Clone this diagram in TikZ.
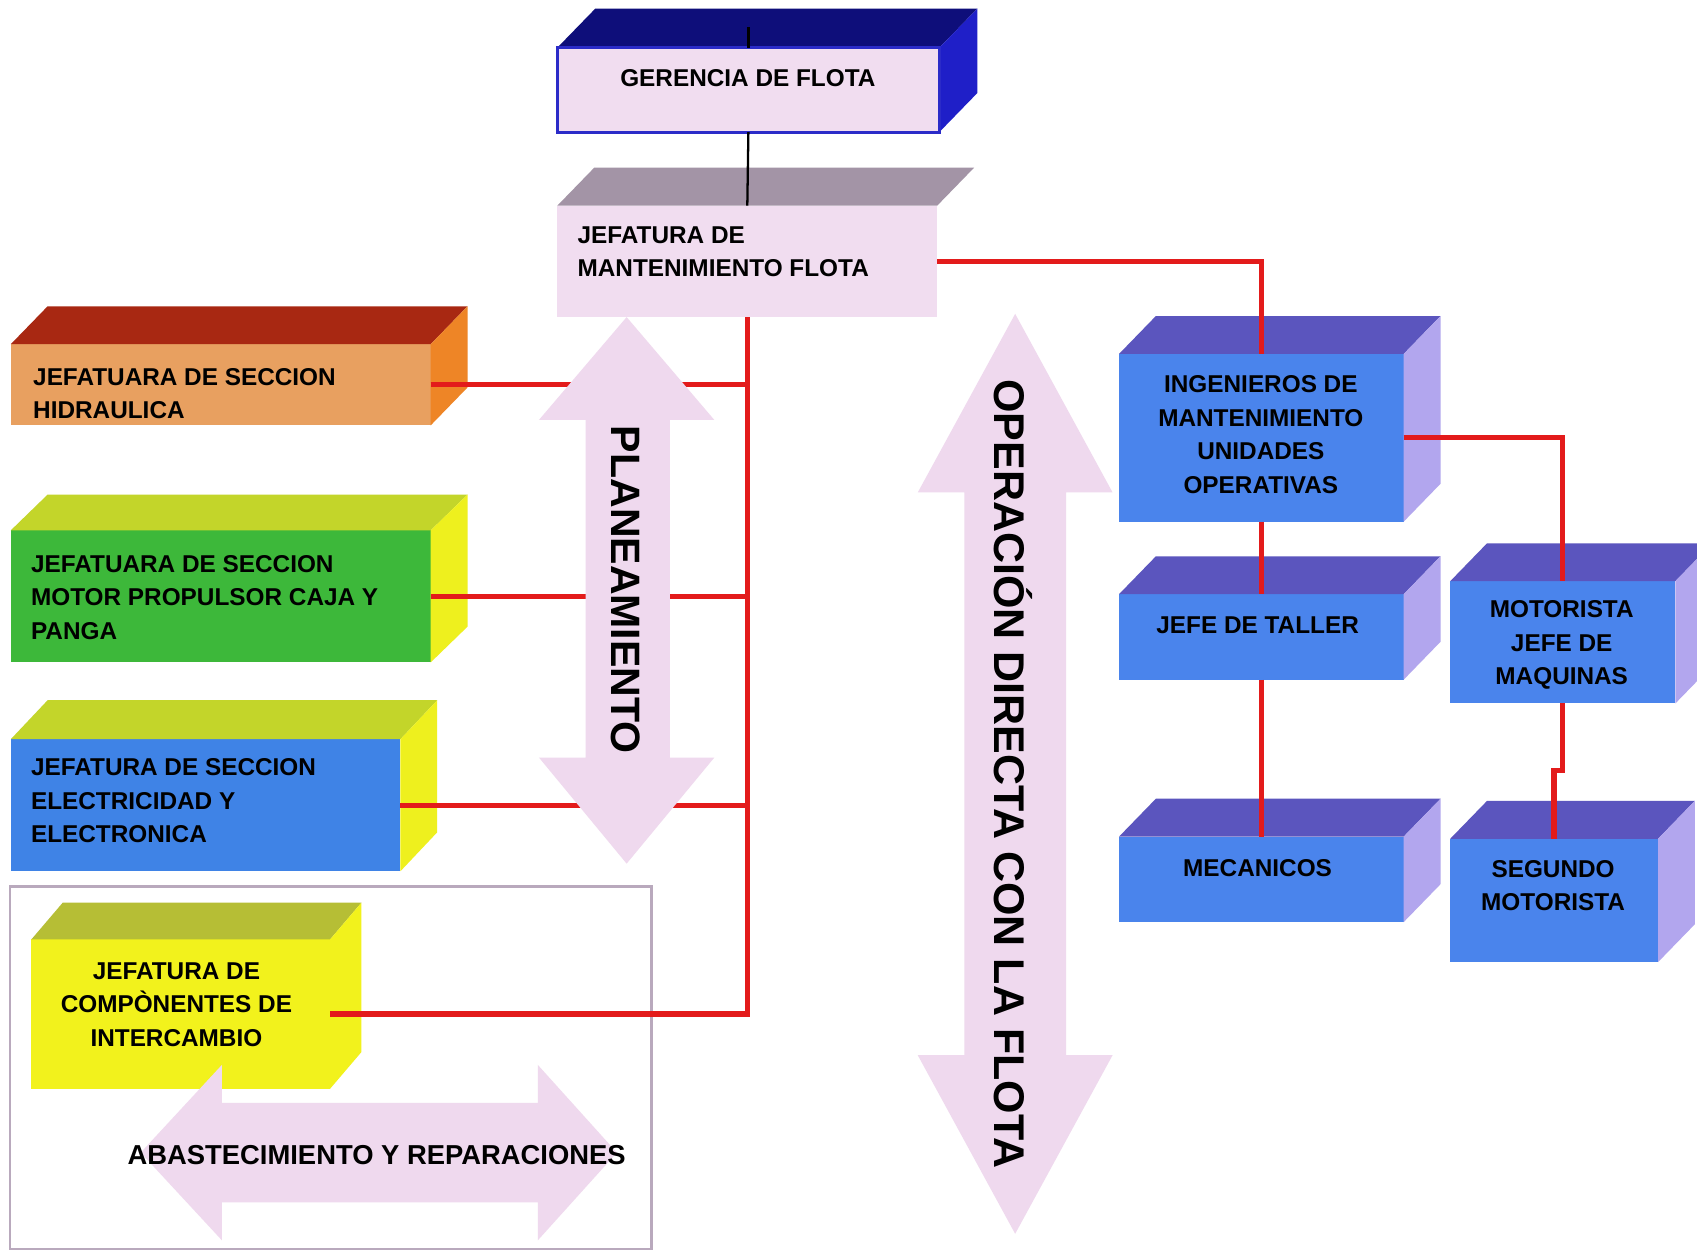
\documentclass[tikz,border=0pt]{standalone}
\usepackage{fontspec}
\setmainfont{Liberation Sans}

% colours of the chart
\definecolor{pinkface}{HTML}{F1DDF0}
\definecolor{bandpink}{HTML}{EFD9EE}
\definecolor{gertop}{HTML}{0E0E7A}
\definecolor{gerside}{HTML}{1F1FC8}
\definecolor{gerborder}{HTML}{2B2BC8}
\definecolor{jeftop}{HTML}{A394A6}
\definecolor{hidfront}{HTML}{E8A060}
\definecolor{hidtop}{HTML}{A82812}
\definecolor{hidside}{HTML}{EE8526}
\definecolor{motfront}{HTML}{3DB83A}
\definecolor{limetop}{HTML}{C3D52A}
\definecolor{yellowside}{HTML}{EEF01E}
\definecolor{elefront}{HTML}{3F83E6}
\definecolor{compfront}{HTML}{F2F21C}
\definecolor{comptop}{HTML}{B6BE35}
\definecolor{bluefront}{HTML}{4A84EC}
\definecolor{bluetop}{HTML}{5B55BE}
\definecolor{blueside}{HTML}{B2A6EE}
\definecolor{wirered}{HTML}{E31B1B}
\definecolor{framec}{HTML}{B9A9BD}

% top and right faces of a box node: node, depth x, depth y (upwards), colour
\newcommand\topface[4]{\fill[#4] (#1.north west) -- ([shift={(#2,-#3)}]#1.north west) -- ([shift={(#2,-#3)}]#1.north east) -- (#1.north east) -- cycle;}
\newcommand\sideface[4]{\fill[#4] (#1.north east) -- ([shift={(#2,-#3)}]#1.north east) -- ([shift={(#2,-#3)}]#1.south east) -- (#1.south east) -- cycle;}

\begin{document}
\begin{tikzpicture}[x=0.1mm,y=-0.1mm,
  face/.style={rectangle, inner sep=0pt, outer sep=0pt, draw=none},
  lbl/.style={inner sep=0pt, text=black, font=\fontsize{6.4}{8.8}\selectfont\bfseries},
  lblL/.style={lbl, align=left, anchor=west},
  lblC/.style={lbl, align=center},
  wire/.style={draw=wirered, line width=1.4pt},
  stem/.style={draw=black, line width=0.6pt},
  band/.style={fill=bandpink},
  bigtxt/.style={inner sep=0pt, text=black, font=\fontsize{10.8}{12}\selectfont\bfseries, rotate=-90}
]
\path[use as bounding box] (0,0) rectangle (1568,1157);
\clip (0,0) rectangle (1568,1157);
\fill[white] (0,0) rectangle (1568,1157);

% frame round the supply group
\draw[framec, line width=0.6pt] (9,819) rectangle (602,1154);

% ---- boxes (front faces) ----
\node[face, fill=pinkface, minimum width=35.3mm, minimum height=7.8mm] (ger) at (691.5,83) {};
\node[face, fill=pinkface, minimum width=35.1mm, minimum height=10.3mm] (jefm) at (690.5,241.5) {};
\node[face, fill=hidfront, minimum width=38.8mm, minimum height=7.5mm] (hid) at (204,355.5) {};
\node[face, fill=motfront, minimum width=38.8mm, minimum height=12.2mm] (mot) at (204,551) {};
\node[face, fill=elefront, minimum width=36.0mm, minimum height=12.2mm] (ele) at (190,744) {};
\node[face, fill=compfront, minimum width=27.6mm, minimum height=13.8mm] (comp) at (167,937) {};
\node[face, fill=bluefront, minimum width=26.3mm, minimum height=15.5mm] (ing) at (1165.5,404.5) {};
\node[face, fill=bluefront, minimum width=26.3mm, minimum height=7.9mm] (taller) at (1165.5,588.5) {};
\node[face, fill=bluefront, minimum width=20.8mm, minimum height=11.3mm] (maq) at (1444,593.5) {};
\node[face, fill=bluefront, minimum width=26.3mm, minimum height=7.9mm] (mec) at (1165.5,812.5) {};
\node[face, fill=bluefront, minimum width=19.2mm, minimum height=11.4mm] (seg) at (1436,832) {};

% ---- top and side faces ----
\topface{ger}{35}{36}{gertop}
\sideface{ger}{35}{36}{gerside}
\draw[gerborder, line width=0.8pt] (ger.north west) rectangle (ger.south east);
\topface{jefm}{34}{35}{jeftop}
\topface{hid}{34}{35}{hidtop}
\sideface{hid}{34}{35}{hidside}
\topface{mot}{34}{33}{limetop}
\sideface{mot}{34}{33}{yellowside}
\topface{ele}{34}{36}{limetop}
\sideface{ele}{34}{36}{yellowside}
\topface{comp}{29}{34}{comptop}
\sideface{comp}{29}{34}{compfront}
\foreach \b in {ing,taller,maq,mec,seg}{
  \topface{\b}{34}{35}{bluetop}
  \sideface{\b}{34}{35}{blueside}
}

% ---- connectors ----
\draw[wire] (jefm.south) |- (comp.east);
\draw[wire] (hid.east) -- (hid.east -| jefm.south);
\draw[wire] (mot.east) -- (mot.east -| jefm.south);
\draw[wire] (ele.east) -- (ele.east -| jefm.south);
\draw[wire] (jefm.east) -| (ing.north);
\draw[wire] (ing.east) -| (maq.north);
\draw[wire] (ing.south) -- (taller.north);
\draw[wire] (taller.south) -- (mec.north);
\draw[wire] (maq.south) -- ++(0,62) -| (seg.north);
\draw[stem] ([yshift=1.9mm]ger.north) -- (ger.north);
\draw[stem] (ger.south) -- (jefm.north);

% ---- broad double arrows ----
\fill[band] (579,293) -- (660,388) -- (619,388) -- (619,700) -- (660,700) -- (579,798)
  -- (498,700) -- (541,700) -- (541,388) -- (498,388) -- cycle;
\fill[band] (938,290) -- (1028,455) -- (985,455) -- (985,975) -- (1028,975) -- (938,1140)
  -- (848,975) -- (891,975) -- (891,455) -- (848,455) -- cycle;
\fill[band] (130,1065) -- (205,984) -- (205,1019) -- (497,1019) -- (497,984) -- (570,1065)
  -- (497,1146) -- (497,1111) -- (205,1111) -- (205,1146) -- cycle;

% ---- texts ----
\node[lblC] (gerT) at (691,72) {GERENCIA DE FLOTA};
\node[lblL] (jefmT) at (533,232.5) {JEFATURA DE\\MANTENIMIENTO FLOTA};
\node[lblL] (hidT) at (30,363.5) {JEFATUARA DE SECCION\\HIDRAULICA};
\node[lblL] (motT) at (28,552) {JEFATUARA DE SECCION\\MOTOR PROPULSOR CAJA Y\\PANGA};
\node[lblL] (eleT) at (28,740) {JEFATURA DE SECCION\\ELECTRICIDAD Y\\ELECTRONICA};
\node[lblC] (compT) at (163,928) {JEFATURA DE\\COMPÒNENTES DE\\INTERCAMBIO};
\node[lblC] (ingT) at (1165,401.5) {INGENIEROS DE\\MANTENIMIENTO\\UNIDADES\\OPERATIVAS};
\node[lblC] (tallerT) at (1162,578) {JEFE DE TALLER};
\node[lblC] (maqT) at (1443,596) {MOTORISTA\\JEFE DE\\MAQUINAS};
\node[lblC] (mecT) at (1162,802) {MECANICOS};
\node[lblC] (segT) at (1435,818.5) {SEGUNDO\\MOTORISTA};
\node[inner sep=0pt, font=\fontsize{7.2}{8}\selectfont\bfseries] (abT) at (348,1067) {ABASTECIMIENTO Y REPARACIONES};
\node[bigtxt] (planT) at (578,545) {PLANEAMIENTO};
\node[bigtxt, font=\fontsize{11.3}{12}\selectfont\bfseries] (operT) at (936,715) {OPERACIÓN DIRECTA CON LA FLOTA};
\end{tikzpicture}
\end{document}
